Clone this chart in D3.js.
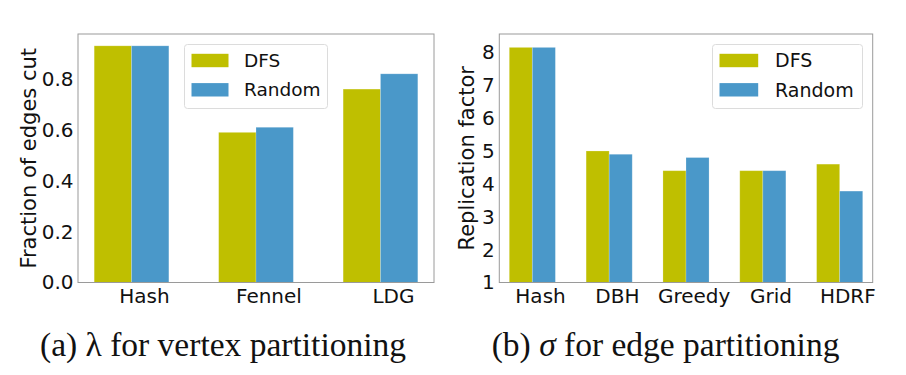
<!DOCTYPE html>
<html>
<head>
<meta charset="utf-8">
<script src="https://cdn.jsdelivr.net/npm/d3@7"></script>
<style>
  html, body { margin: 0; padding: 0; background: #fff; }
  svg { display: block; }
</style>
</head>
<body>
<svg id="chart" width="906" height="375"></svg>
<script>
// ---- data ----
const seriesNames = ["DFS", "Random"];
const catsA = ["Hash", "Fennel", "LDG"];
const dfsA = [0.93, 0.59, 0.76];
const randomA = [0.93, 0.61, 0.82];
const ticksA = [0.0, 0.2, 0.4, 0.6, 0.8];

const catsB = ["Hash", "DBH", "Greedy", "Grid", "HDRF"];
const dfsB = [8.15, 5.0, 4.4, 4.4, 4.6];
const randomB = [8.15, 4.9, 4.8, 4.4, 3.78];
const ticksB = [1, 2, 3, 4, 5, 6, 7, 8];

const colors = ["#bfbf00", "#4a98c9"];

const svg = d3.select("#chart");

function panel(cfg) {
  const n = cfg.cats.length;
  const x = d3.scaleLinear().domain([-0.43, n - 1 + 0.43]).range([cfg.left, cfg.right]);
  const y = d3.scaleLinear().domain(cfg.yDomain).range([cfg.bottom, cfg.top]);
  const g = svg.append("g");

  const series = [cfg.dfs, cfg.random];
  series.forEach((vals, s) => {
    g.selectAll(null).data(vals).enter().append("rect")
      .attr("x", (d, i) => x(i - 0.3 + s * 0.3))
      .attr("width", x(0.3) - x(0))
      .attr("y", d => y(d))
      .attr("height", d => y(cfg.yDomain[0]) - y(d))
      .attr("fill", colors[s])
      .attr("stroke", "#ffffff").attr("stroke-opacity", 0.25).attr("stroke-width", 0.8);
  });

  // frame
  g.append("rect")
    .attr("x", cfg.left).attr("y", cfg.top)
    .attr("width", cfg.right - cfg.left).attr("height", cfg.bottom - cfg.top)
    .attr("fill", "none").attr("stroke", "#9a9a9a").attr("stroke-width", 1);

  // y axis
  const yAxis = d3.axisLeft(y).tickValues(cfg.yTicks).tickFormat(cfg.fmt).tickSize(0).tickPadding(4.5);
  const ya = g.append("g").attr("transform", `translate(${cfg.left},0)`).call(yAxis);
  ya.select(".domain").remove();
  ya.selectAll("text").attr("font-family", "DejaVu Sans").attr("font-size", cfg.tickFont).attr("fill", "#111");

  // x axis
  const xAxis = d3.axisBottom(x).tickValues(d3.range(n).map(i => i + 0.1))
    .tickFormat((d, i) => cfg.cats[i]).tickSize(0).tickPadding(6);
  const xa = g.append("g").attr("transform", `translate(0,${cfg.bottom})`).call(xAxis);
  xa.select(".domain").remove();
  xa.selectAll("text").attr("font-family", "DejaVu Sans").attr("font-size", cfg.tickFont).attr("fill", "#111");

  // y label
  g.append("text")
    .attr("transform", `translate(${cfg.ylabelX},${(cfg.top + cfg.bottom) / 2}) rotate(-90)`)
    .attr("text-anchor", "middle")
    .attr("font-family", "DejaVu Sans").attr("font-size", 21).attr("fill", "#111")
    .text(cfg.ylabel);

  // legend
  const L = cfg.legend;
  const lg = g.append("g");
  lg.append("rect").attr("x", L.x).attr("y", L.y).attr("width", L.w).attr("height", L.h)
    .attr("rx", 3).attr("fill", "#fff").attr("fill-opacity", 0.8)
    .attr("stroke", "#dcdcdc").attr("stroke-width", 1);
  seriesNames.forEach((name, s) => {
    const cy = L.y + 16 + s * 29.3;
    lg.append("rect").attr("x", L.x + 7).attr("y", cy - 6.7).attr("width", L.pw).attr("height", 13.4)
      .attr("fill", colors[s]);
    lg.append("text").attr("x", L.tx).attr("y", cy).attr("dy", "0.36em")
      .attr("font-family", "DejaVu Sans").attr("font-size", L.font).attr("fill", "#111")
      .text(name);
  });

  // caption
  const cap = svg.append("text").attr("x", cfg.capX).attr("y", 356)
    .attr("font-family", "Liberation Serif").attr("font-size", 33.5).attr("fill", "#111");
  cap.append("tspan").text(cfg.capPre);
  cap.append("tspan").attr("font-style", cfg.symItalic ? "italic" : "normal").text(cfg.capSym);
  cap.append("tspan").text(cfg.capPost);
}

panel({
  cats: catsA, dfs: dfsA, random: randomA, yTicks: ticksA,
  yDomain: [0, 0.93 * 1.05], fmt: d3.format(".1f"),
  left: 78, right: 434, top: 34, bottom: 282.5,
  tickFont: 20, ylabel: "Fraction of edges cut", ylabelX: 36,
  legend: { x: 184.5, y: 44.5, w: 143, h: 64, pw: 37, tx: 244, font: 18.5 },
  capX: 40, capPre: "(a) ", capSym: "λ", symItalic: false, capPost: " for vertex partitioning"
});

panel({
  cats: catsB, dfs: dfsB, random: randomB, yTicks: ticksB,
  yDomain: [1, 8.15 * 1.05], fmt: d3.format("d"),
  left: 499.3, right: 872.7, top: 34, bottom: 282.5,
  tickFont: 20, ylabel: "Replication factor", ylabelX: 473.5,
  legend: { x: 712.5, y: 44.5, w: 150, h: 64, pw: 38.7, tx: 775, font: 19 },
  capX: 491.7, capPre: "(b) ", capSym: "σ", symItalic: true, capPost: " for edge partitioning"
});
</script>
</body>
</html>
